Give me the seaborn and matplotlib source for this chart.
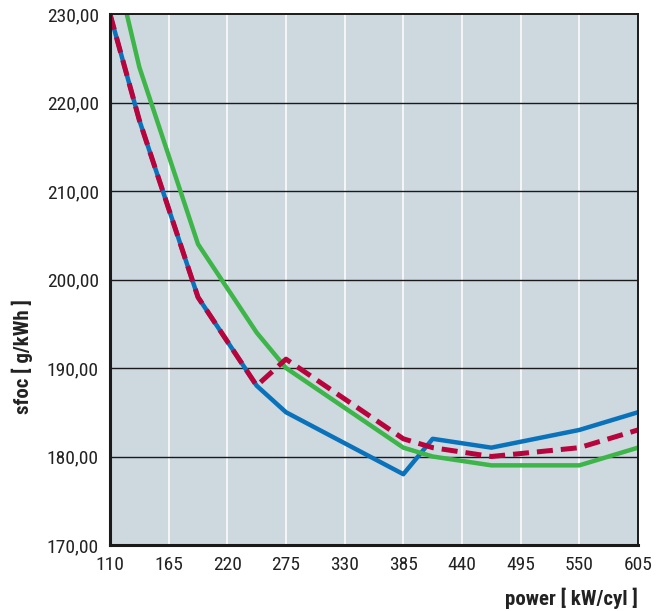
import matplotlib
matplotlib.use("Agg")
import matplotlib.pyplot as plt
import matplotlib.ticker as mticker
import seaborn as sns
import pandas as pd

# load points in kW/cyl (20 % ... 110 % of 550 kW/cyl)
power = [110, 137.5, 192.5, 247.5, 275, 385, 412.5, 467.5, 550, 605]
sfoc_blue = [230, 218, 198, 188, 185, 178, 182, 181, 183, 185]
sfoc_green = [238, 224, 204, 194, 190, 181, 180, 179, 179, 181]
sfoc_red = [230, 218, 198, 188, 191, 182, 181, 180, 181, 183]

x_ticks = [110, 165, 220, 275, 330, 385, 440, 495, 550, 605]
y_ticks = [170, 180, 190, 200, 210, 220, 230]

df = pd.DataFrame({"power": power, "blue": sfoc_blue,
                   "green": sfoc_green, "red": sfoc_red})

sns.set_style("white")
font = ["Roboto Condensed", "Archivo Narrow", "DejaVu Sans"]
plt.rcParams["font.family"] = font

fig = plt.figure(figsize=(6.65, 6.11), dpi=100)
ax = fig.add_axes([110 / 665, 1 - 545 / 611, 528 / 665, 531 / 611])
ax.set_facecolor("#cdd8df")

sns.lineplot(data=df, x="power", y="blue", ax=ax, color="#0a72ba", lw=3.2)
sns.lineplot(data=df, x="power", y="green", ax=ax, color="#3db549", lw=3.2)
sns.lineplot(data=df, x="power", y="red", ax=ax, color="#b8043c", lw=3.6,
             dashes=False, linestyle=(0, (3.2, 1.6)))

ax.set_xlim(110, 605)
ax.set_ylim(170, 230)
ax.set_xticks(x_ticks)
ax.set_yticks(y_ticks)
ax.yaxis.set_major_formatter(mticker.FuncFormatter(lambda v, p: f"{v:.2f}".replace(".", ",")))
ax.set_xlabel("")
ax.set_ylabel("")

for v in x_ticks[1:-1]:
    ax.axvline(v, color="white", lw=1.1, zorder=0.5)
for v in y_ticks[1:-1]:
    ax.axhline(v, color="#1a1a1a", lw=1.0, zorder=0.6)

for side in ["left", "bottom"]:
    ax.spines[side].set_linewidth(2.2)
    ax.spines[side].set_color("#1a1a1a")
for side in ["top", "right"]:
    ax.spines[side].set_linewidth(1.4)
    ax.spines[side].set_color("#1a1a1a")

ax.tick_params(axis="both", direction="out", length=5, width=1.5, color="#1a1a1a",
               labelsize=14, labelcolor="#222222", pad=3)

fig.text(638 / 665, 1 - 598 / 611, "power [ kW/cyl ]", ha="right", va="center",
         fontsize=15, fontweight="bold", color="#222222", family=font)
fig.text(22 / 665, 1 - 357 / 611, "sfoc [ g/kWh ]", ha="center", va="center",
         rotation=90, fontsize=15, fontweight="bold", color="#222222", family=font)

fig.savefig("out.png", dpi=100)
